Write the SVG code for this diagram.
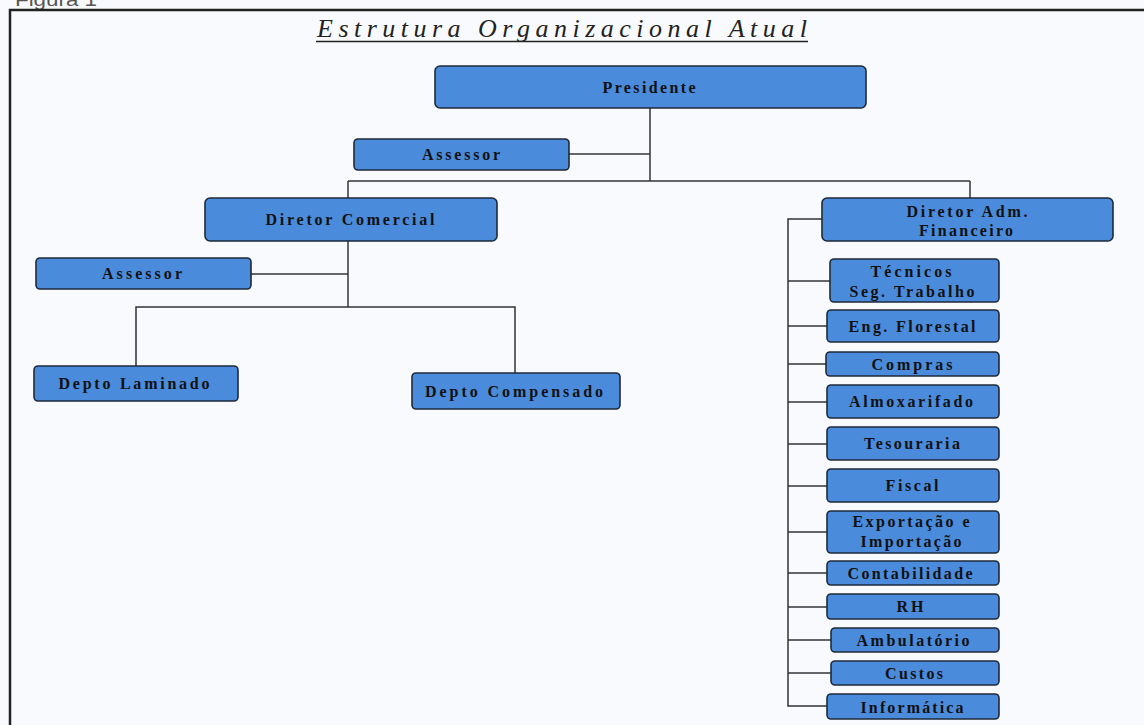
<svg xmlns="http://www.w3.org/2000/svg" width="1144" height="725" viewBox="0 0 1144 725">
<style>
.bg{fill:#f8fafd}
.frame{fill:none;stroke:#222;stroke-width:2.5}
.box{fill:#4a8bdb;stroke:#1e2a38;stroke-width:1.6}
.lbl{font-family:"Liberation Serif","Times New Roman",serif;font-weight:bold;font-size:16px;fill:#111;text-anchor:middle}
.title{font-family:"Liberation Serif","Times New Roman",serif;font-style:italic;font-size:26px;fill:#222}
.fig{font-family:"Liberation Sans",Arial,sans-serif;font-size:18px;fill:#555}
.conn line,.conn polyline{fill:none;stroke:#333;stroke-width:1.5}
</style>
<rect class="bg" x="0" y="0" width="1144" height="725"/>
<text class="fig" x="15" y="6" textLength="82" lengthAdjust="spacingAndGlyphs">Figura 1</text>
<polyline class="frame" points="10,725 10,10 1144,10"/>
<text class="title" x="317" y="37" textLength="490" lengthAdjust="spacing">Estrutura Organizacional Atual</text>
<line x1="316" y1="41.5" x2="808" y2="41.5" stroke="#222" stroke-width="1.5"/>

<g class="conn" id="connectors">
<line x1="650" y1="108" x2="650" y2="181"/>
<line x1="569" y1="154" x2="650" y2="154"/>
<line x1="348" y1="181" x2="970" y2="181"/>
<line x1="348" y1="181" x2="348" y2="198"/>
<line x1="970" y1="181" x2="970" y2="198"/>
<line x1="348" y1="241" x2="348" y2="307"/>
<line x1="251" y1="274" x2="348" y2="274"/>
<polyline points="136,366 136,307 515,307 515,373"/>
<polyline points="822,219 788,219 788,706 827,706"/>
<line x1="788" y1="281" x2="830" y2="281"/>
<line x1="788" y1="326" x2="827" y2="326"/>
<line x1="788" y1="364" x2="826" y2="364"/>
<line x1="788" y1="402" x2="827" y2="402"/>
<line x1="788" y1="444" x2="827" y2="444"/>
<line x1="788" y1="486" x2="827" y2="486"/>
<line x1="788" y1="532" x2="827" y2="532"/>
<line x1="788" y1="573" x2="827" y2="573"/>
<line x1="788" y1="607" x2="827" y2="607"/>
<line x1="788" y1="640" x2="831" y2="640"/>
<line x1="788" y1="673" x2="831" y2="673"/>
</g>

<g id="presidente"><rect class="box" x="435" y="66" width="431" height="42" rx="5"/><text class="lbl" x="649" y="93" textLength="93">Presidente</text></g>
<g id="assessor1"><rect class="box" x="354" y="139" width="215" height="31" rx="4"/><text class="lbl" x="461" y="160" textLength="78">Assessor</text></g>
<g id="diretor-comercial"><rect class="box" x="205" y="198" width="292" height="43" rx="5"/><text class="lbl" x="350" y="225" textLength="169">Diretor Comercial</text></g>
<g id="assessor2"><rect class="box" x="36" y="258" width="215" height="31" rx="4"/><text class="lbl" x="142" y="279" textLength="80">Assessor</text></g>
<g id="depto-laminado"><rect class="box" x="34" y="366" width="204" height="35" rx="4"/><text class="lbl" x="134" y="389" textLength="151">Depto Laminado</text></g>
<g id="depto-compensado"><rect class="box" x="412" y="373" width="208" height="36" rx="4"/><text class="lbl" x="514" y="397" textLength="178">Depto Compensado</text></g>
<g id="diretor-adm"><rect class="box" x="822" y="198" width="291" height="43" rx="5"/><text class="lbl" x="967" y="217" textLength="121">Diretor Adm.</text><text class="lbl" x="966" y="236" textLength="94">Financeiro</text></g>
<g id="tecnicos"><rect class="box" x="830" y="259" width="169" height="43" rx="4"/><text class="lbl" x="911" y="277" textLength="81">Técnicos</text><text class="lbl" x="912" y="297" textLength="125">Seg. Trabalho</text></g>
<g id="eng-florestal"><rect class="box" x="827" y="310" width="172" height="32" rx="4"/><text class="lbl" x="912" y="332" textLength="127">Eng. Florestal</text></g>
<g id="compras"><rect class="box" x="826" y="352" width="173" height="24" rx="4"/><text class="lbl" x="912" y="370" textLength="81">Compras</text></g>
<g id="almoxarifado"><rect class="box" x="827" y="385" width="172" height="33" rx="4"/><text class="lbl" x="911" y="407" textLength="124">Almoxarifado</text></g>
<g id="tesouraria"><rect class="box" x="827" y="427" width="172" height="33" rx="4"/><text class="lbl" x="912" y="449" textLength="96">Tesouraria</text></g>
<g id="fiscal"><rect class="box" x="827" y="469" width="172" height="33" rx="4"/><text class="lbl" x="912" y="491" textLength="53">Fiscal</text></g>
<g id="exportacao"><rect class="box" x="827" y="511" width="172" height="42" rx="4"/><text class="lbl" x="911" y="527" textLength="117">Exportação e</text><text class="lbl" x="911" y="547" textLength="101">Importação</text></g>
<g id="contabilidade"><rect class="box" x="827" y="561" width="172" height="24" rx="4"/><text class="lbl" x="910" y="579" textLength="125">Contabilidade</text></g>
<g id="rh"><rect class="box" x="827" y="594" width="172" height="25" rx="4"/><text class="lbl" x="910" y="612" textLength="27">RH</text></g>
<g id="ambulatorio"><rect class="box" x="831" y="628" width="168" height="24" rx="4"/><text class="lbl" x="913" y="646" textLength="113">Ambulatório</text></g>
<g id="custos"><rect class="box" x="831" y="661" width="168" height="24" rx="4"/><text class="lbl" x="914" y="679" textLength="58">Custos</text></g>
<g id="informatica"><rect class="box" x="827" y="694" width="172" height="25" rx="4"/><text class="lbl" x="912" y="713" textLength="103">Informática</text></g>
</svg>
